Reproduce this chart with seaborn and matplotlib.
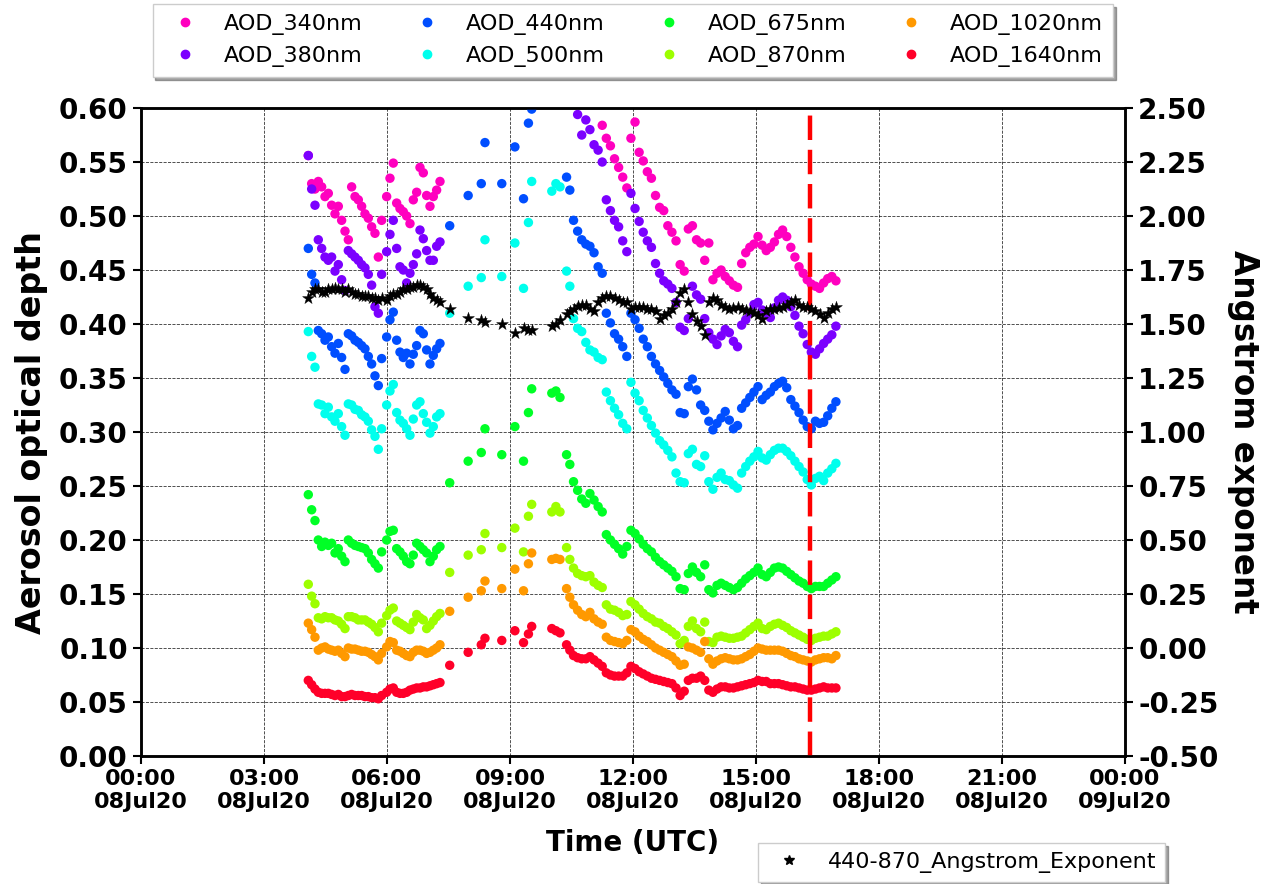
import numpy as np
import pandas as pd
import seaborn as sns
import matplotlib
matplotlib.use('Agg')
import matplotlib.pyplot as plt
import matplotlib.dates as mdates
from matplotlib.lines import Line2D

nan = np.nan

# observation times, hours UTC on 08Jul20
hours = [4.081, 4.163, 4.244, 4.325, 4.407, 4.488, 4.569, 4.650, 4.732, 4.813, 4.894, 4.976,
         5.057, 5.138, 5.220, 5.301, 5.382, 5.463, 5.545, 5.626, 5.707, 5.789, 5.870,
         5.992, 6.073, 6.154, 6.236, 6.317, 6.398, 6.480, 6.561, 6.642, 6.724, 6.805, 6.886,
         6.967, 7.049, 7.130, 7.211, 7.293,
         7.53, 7.98, 8.30, 8.39, 8.80, 9.12, 9.33, 9.45, 9.53, 10.02, 10.12, 10.22, 10.38, 10.46,
         10.55, 10.65, 10.75, 10.85, 10.95, 11.05, 11.15, 11.25,
         11.35, 11.45, 11.55, 11.65, 11.75, 11.85,
         11.95, 12.05, 12.15, 12.25, 12.35, 12.45, 12.55, 12.65, 12.75, 12.85, 12.95,
         13.05, 13.15, 13.25, 13.35, 13.45, 13.55, 13.65, 13.75, 13.85, 13.95,
         14.05, 14.15, 14.25, 14.35, 14.45, 14.55, 14.65, 14.75, 14.85, 14.95,
         15.05, 15.15, 15.25, 15.35, 15.45, 15.55, 15.65, 15.75, 15.85, 15.95,
         16.05, 16.15, 16.25, 16.35, 16.45, 16.55, 16.65, 16.75, 16.85, 16.95]

aod_340 = [0.556, 0.530, 0.525, 0.532, 0.527, 0.518, 0.521, 0.510, 0.502, 0.509, 0.496, 0.486,
           0.478, 0.527, 0.518, 0.515, 0.509, 0.502, 0.498, 0.490, 0.484, 0.462, 0.496,
           0.518, 0.535, 0.549, 0.512, 0.507, 0.504, 0.500, 0.493, 0.515, 0.522, 0.545, 0.540,
           0.519, 0.509, 0.518, 0.524, 0.532,
           nan, nan, nan, nan, nan, nan, nan, nan, nan, nan, nan, nan, nan, nan,
           nan, nan, nan, nan, nan, nan, nan, 0.584,
           0.572, 0.565, 0.553, 0.545, 0.536, 0.526,
           0.572, 0.587, 0.559, 0.551, 0.541, 0.535, 0.519, 0.508, 0.505, 0.491, 0.485,
           0.477, 0.455, 0.449, 0.488, 0.491, 0.478, 0.475, 0.459, 0.475, 0.441,
           0.447, 0.450, 0.444, 0.440, 0.436, 0.434, 0.456, 0.466, 0.471, 0.474,
           0.481, 0.473, 0.468, 0.471, 0.476, 0.483, 0.487, 0.481, 0.471, 0.462,
           0.453, 0.447, 0.441, 0.437, 0.435, 0.433, 0.438, 0.442, 0.444, 0.440]

aod_380 = [0.556, 0.525, 0.510, 0.478, 0.470, 0.462, 0.459, 0.462, 0.449, 0.455, 0.441, 0.431,
           0.468, 0.465, 0.462, 0.459, 0.455, 0.452, 0.446, 0.436, 0.416, 0.410, 0.446,
           0.467, 0.483, 0.496, 0.470, 0.453, 0.450, 0.438, 0.447, 0.455, 0.465, 0.487, 0.479,
           0.468, 0.459, 0.459, 0.472, 0.476,
           nan, nan, nan, nan, nan, nan, nan, nan, nan, nan, nan, nan, nan, nan,
           nan, 0.594, 0.575, 0.589, 0.580, 0.566, 0.561, 0.550,
           0.515, 0.505, 0.496, 0.490, 0.477, 0.467,
           0.521, 0.507, 0.495, 0.485, 0.477, 0.471, 0.456, 0.447, 0.440, 0.437, 0.433,
           0.420, 0.397, 0.394, 0.405, 0.435, 0.427, 0.423, 0.405, 0.392, 0.386,
           0.381, 0.389, 0.395, 0.392, 0.384, 0.379, 0.399, 0.404, 0.410, 0.418,
           0.420, 0.413, 0.410, 0.406, 0.415, 0.422, 0.425, 0.422, 0.416, 0.408,
           0.398, 0.391, 0.381, 0.374, 0.372, 0.377, 0.382, 0.386, 0.390, 0.398]

aod_440 = [0.470, 0.446, 0.438, 0.394, 0.391, 0.385, 0.388, 0.379, 0.373, 0.382, 0.369, 0.358,
           0.391, 0.389, 0.385, 0.383, 0.380, 0.377, 0.370, 0.363, 0.352, 0.343, 0.368,
           0.388, 0.404, 0.411, 0.385, 0.374, 0.369, 0.373, 0.363, 0.372, 0.380, 0.394, 0.391,
           0.376, 0.363, 0.371, 0.377, 0.382,
           0.491, 0.519, 0.530, 0.568, 0.530, 0.564, 0.516, 0.586, 0.599, nan, nan, nan, 0.536, 0.524,
           0.496, 0.486, 0.478, 0.474, 0.472, 0.466, 0.453, 0.447,
           0.410, 0.401, 0.391, 0.386, 0.379, 0.370,
           0.410, 0.404, 0.396, 0.386, 0.379, 0.370, 0.363, 0.357, 0.351, 0.345, 0.339,
           0.335, 0.318, 0.317, 0.342, 0.349, 0.339, 0.325, 0.320, 0.310, 0.302,
           0.308, 0.313, 0.319, 0.311, 0.303, 0.306, 0.322, 0.327, 0.332, 0.337,
           0.342, 0.330, 0.334, 0.337, 0.342, 0.345, 0.347, 0.341, 0.330, 0.324,
           0.318, 0.311, 0.305, 0.303, 0.310, 0.308, 0.309, 0.315, 0.322, 0.328]

aod_500 = [0.393, 0.370, 0.360, 0.326, 0.325, 0.317, 0.323, 0.314, 0.310, 0.317, 0.305, 0.297,
           0.326, 0.325, 0.321, 0.320, 0.316, 0.314, 0.310, 0.302, 0.296, 0.284, 0.303,
           0.325, 0.338, 0.344, 0.318, 0.311, 0.308, 0.303, 0.297, 0.312, 0.325, 0.328, 0.317,
           0.309, 0.299, 0.305, 0.314, 0.317,
           0.410, 0.435, 0.443, 0.478, 0.444, 0.475, 0.433, 0.494, 0.532, 0.523, 0.530, 0.527, 0.449, 0.435,
           0.405, 0.396, 0.393, 0.383, 0.376, 0.374, 0.369, 0.367,
           0.337, 0.329, 0.322, 0.316, 0.308, 0.303,
           0.346, 0.336, 0.329, 0.320, 0.313, 0.306, 0.299, 0.292, 0.288, 0.283, 0.277,
           0.262, 0.254, 0.253, 0.280, 0.284, 0.270, 0.268, 0.278, 0.254, 0.247,
           0.258, 0.262, 0.256, 0.255, 0.251, 0.248, 0.262, 0.268, 0.273, 0.277,
           0.282, 0.276, 0.274, 0.279, 0.283, 0.285, 0.285, 0.282, 0.278, 0.273,
           0.268, 0.263, 0.256, 0.251, 0.257, 0.259, 0.255, 0.262, 0.266, 0.271]

aod_675 = [0.242, 0.228, 0.218, 0.200, 0.194, 0.198, 0.195, 0.197, 0.188, 0.192, 0.185, 0.180,
           0.200, 0.197, 0.195, 0.194, 0.193, 0.192, 0.188, 0.182, 0.178, 0.174, 0.189,
           0.200, 0.208, 0.209, 0.192, 0.189, 0.185, 0.180, 0.178, 0.186, 0.197, 0.194, 0.191,
           0.188, 0.180, 0.185, 0.191, 0.194,
           0.253, 0.273, 0.281, 0.303, 0.279, 0.305, 0.273, 0.318, 0.340, 0.336, 0.338, 0.332, 0.279, 0.270,
           0.254, 0.246, 0.238, 0.234, 0.243, 0.237, 0.231, 0.226,
           0.205, 0.200, 0.196, 0.192, 0.187, 0.194,
           0.209, 0.206, 0.201, 0.196, 0.192, 0.189, 0.184, 0.180, 0.177, 0.174, 0.171,
           0.166, 0.155, 0.154, 0.169, 0.175, 0.170, 0.166, 0.177, 0.154, 0.151,
           0.158, 0.160, 0.158, 0.156, 0.154, 0.156, 0.160, 0.164, 0.167, 0.170,
           0.174, 0.168, 0.166, 0.170, 0.174, 0.175, 0.174, 0.171, 0.168, 0.165,
           0.162, 0.160, 0.157, 0.155, 0.157, 0.157, 0.157, 0.160, 0.163, 0.166]

aod_870 = [0.159, 0.148, 0.141, 0.128, 0.127, 0.129, 0.128, 0.128, 0.126, 0.125, 0.122, 0.118,
           0.129, 0.129, 0.128, 0.126, 0.126, 0.126, 0.124, 0.122, 0.119, 0.115, 0.123,
           0.130, 0.135, 0.137, 0.125, 0.123, 0.121, 0.119, 0.117, 0.124, 0.131, 0.128, 0.126,
           0.118, 0.121, 0.125, 0.129, 0.132,
           0.170, 0.186, 0.191, 0.206, 0.193, 0.211, 0.189, 0.222, 0.233, 0.226, 0.231, 0.226, 0.193, 0.182,
           0.174, 0.169, 0.167, 0.166, 0.167, 0.161, 0.158, 0.156,
           0.140, 0.136, 0.135, 0.133, 0.130, 0.131,
           0.143, 0.140, 0.136, 0.132, 0.129, 0.127, 0.124, 0.123, 0.120, 0.118, 0.115,
           0.112, 0.104, 0.107, 0.120, 0.125, 0.118, 0.115, 0.124, 0.106, 0.105,
           0.110, 0.111, 0.110, 0.109, 0.109, 0.110, 0.111, 0.114, 0.117, 0.120,
           0.123, 0.118, 0.117, 0.120, 0.122, 0.123, 0.121, 0.119, 0.116, 0.114,
           0.112, 0.110, 0.108, 0.107, 0.109, 0.110, 0.111, 0.111, 0.113, 0.115]

aod_1020 = [0.123, 0.117, 0.110, 0.098, 0.100, 0.101, 0.099, 0.098, 0.097, 0.098, 0.095, 0.092,
            0.100, 0.099, 0.099, 0.098, 0.097, 0.097, 0.096, 0.094, 0.092, 0.089, 0.095,
            0.101, 0.106, 0.105, 0.098, 0.097, 0.095, 0.093, 0.092, 0.096, 0.098, 0.098, 0.097,
            0.095, 0.096, 0.098, 0.100, 0.103,
            0.134, 0.147, 0.153, 0.162, 0.155, 0.173, 0.153, 0.178, 0.188, 0.182, 0.183, 0.182, 0.155, 0.147,
            0.140, 0.135, 0.131, 0.129, 0.133, 0.127, 0.124, 0.122,
            0.110, 0.107, 0.106, 0.105, 0.104, 0.107,
            0.117, 0.115, 0.111, 0.108, 0.106, 0.103, 0.100, 0.098, 0.096, 0.094, 0.092,
            0.088, 0.084, 0.085, 0.101, 0.100, 0.098, 0.096, 0.106, 0.090, 0.085,
            0.088, 0.090, 0.091, 0.090, 0.089, 0.089, 0.090, 0.092, 0.094, 0.097,
            0.100, 0.099, 0.098, 0.098, 0.098, 0.098, 0.097, 0.095, 0.093, 0.092,
            0.090, 0.089, 0.088, 0.087, 0.089, 0.090, 0.091, 0.091, 0.090, 0.093]

aod_1640 = [0.070, 0.066, 0.062, 0.059, 0.058, 0.058, 0.058, 0.057, 0.056, 0.057, 0.055, 0.055,
            0.056, 0.057, 0.056, 0.056, 0.056, 0.055, 0.055, 0.054, 0.054, 0.053, 0.056,
            0.059, 0.062, 0.063, 0.059, 0.058, 0.058, 0.059, 0.061, 0.062, 0.063, 0.063, 0.064,
            0.064, 0.065, 0.066, 0.067, 0.068,
            0.084, 0.096, 0.103, 0.109, 0.107, 0.116, 0.105, 0.113, 0.120, 0.118, 0.116, 0.114, 0.103, 0.098,
            0.093, 0.091, 0.090, 0.090, 0.092, 0.089, 0.086, 0.083,
            0.077, 0.075, 0.074, 0.074, 0.074, 0.077,
            0.083, 0.081, 0.078, 0.076, 0.074, 0.072, 0.071, 0.070, 0.069, 0.068, 0.067,
            0.063, 0.056, 0.060, 0.070, 0.072, 0.072, 0.074, 0.070, 0.061, 0.059,
            0.062, 0.064, 0.064, 0.063, 0.063, 0.064, 0.065, 0.066, 0.067, 0.068,
            0.070, 0.069, 0.069, 0.067, 0.067, 0.067, 0.066, 0.065, 0.064, 0.064,
            0.063, 0.062, 0.061, 0.061, 0.062, 0.063, 0.064, 0.063, 0.063, 0.063]

angstrom = [1.62, 1.65, 1.66, 1.66, 1.65, 1.65, 1.66, 1.66, 1.665, 1.66, 1.66, 1.65,
            1.66, 1.65, 1.64, 1.64, 1.63, 1.63, 1.63, 1.62, 1.62, 1.61, 1.62,
            1.61, 1.63, 1.64, 1.64, 1.65, 1.66, 1.66, 1.67, 1.67, 1.68, 1.68, 1.67,
            1.66, 1.64, 1.62, 1.61, 1.60,
            1.57, 1.53, 1.52, 1.51, 1.50, 1.46, 1.48, 1.47, 1.47, 1.49, 1.50, 1.52, 1.545, 1.56,
            1.57, 1.585, 1.59, 1.59, 1.57, 1.56, 1.60, 1.62,
            1.63, 1.63, 1.62, 1.61, 1.60, 1.60,
            1.57, 1.58, 1.58, 1.58, 1.57, 1.57, 1.56, 1.525, 1.54, 1.55, 1.57,
            1.60, 1.645, 1.66, 1.60, 1.545, 1.515, 1.49, 1.45, 1.60, 1.62,
            1.61, 1.59, 1.58, 1.57, 1.575, 1.58, 1.57, 1.565, 1.56, 1.55,
            1.54, 1.525, 1.56, 1.57, 1.57, 1.575, 1.58, 1.59, 1.60, 1.61,
            1.59, 1.58, 1.58, 1.57, 1.56, 1.545, 1.53, 1.55, 1.57, 1.58]

labels = ['AOD_340nm', 'AOD_380nm', 'AOD_440nm', 'AOD_500nm',
          'AOD_675nm', 'AOD_870nm', 'AOD_1020nm', 'AOD_1640nm']
series = [aod_340, aod_380, aod_440, aod_500, aod_675, aod_870, aod_1020, aod_1640]
cut_hour = 16.32

day = pd.Timestamp('2020-07-08')
times = day + pd.to_timedelta(hours, unit='h')

df = pd.concat([pd.DataFrame({'time': times, 'aod': vals, 'band': lab})
                for lab, vals in zip(labels, series)], ignore_index=True)
df_ae = pd.DataFrame({'time': times, 'ae': angstrom})

cols = plt.get_cmap('gist_rainbow')(np.linspace(0, 1, 8))[::-1]
pal = dict(zip(labels, cols))

sns.set_style('ticks')
plt.rcParams['font.family'] = ['DejaVu Sans']
plt.rcParams.update({'text.color': 'black', 'axes.labelcolor': 'black',
                     'xtick.color': 'black', 'ytick.color': 'black',
                     'axes.edgecolor': 'black'})

fig = plt.figure(figsize=(12.69, 8.84), dpi=100)
ax = fig.add_axes([0.1111, 0.1448, 0.7754, 0.733])

sns.scatterplot(data=df.dropna(), x='time', y='aod', hue='band', palette=pal,
                hue_order=labels, s=46, linewidth=0, legend=False, ax=ax, zorder=3)
ax.axvline(day + pd.Timedelta(hours=cut_hour), color='red', lw=3.2,
           dashes=(5.5, 2.2), zorder=4)

ax.set_xlim(day, day + pd.Timedelta(days=1))
ax.set_ylim(0, 0.6)
ax.set_yticks(np.arange(0, 0.61, 0.05))
ax.yaxis.set_major_formatter(plt.FormatStrFormatter('%.2f'))
ax.xaxis.set_major_locator(mdates.HourLocator(byhour=range(0, 24, 3)))
ax.xaxis.set_major_formatter(mdates.DateFormatter('%H:%M\n%d%b%y'))
ax.grid(True, linestyle='--', color='k', linewidth=0.6, alpha=0.8)
ax.set_xlabel('Time (UTC)', fontsize=20, fontweight='bold', labelpad=12)
ax.set_ylabel('Aerosol optical depth', fontsize=24, fontweight='bold', labelpad=8)
ax.tick_params(axis='x', labelsize=16, width=1.5, length=6)
ax.tick_params(axis='y', labelsize=20, width=1.5, length=6)
for lab in ax.get_xticklabels() + ax.get_yticklabels():
    lab.set_fontweight('bold')

ax2 = ax.twinx()
sns.scatterplot(data=df_ae, x='time', y='ae', color='k', marker='*', s=80,
                linewidth=0.3, edgecolor='k', legend=False, ax=ax2, zorder=5)
ax2.set_ylim(-0.5, 2.5)
ax2.set_yticks(np.arange(-0.5, 2.51, 0.25))
ax2.yaxis.set_major_formatter(plt.FormatStrFormatter('%.2f'))
ax2.set_ylabel('Angstrom exponent', fontsize=23.5, fontweight='bold',
               rotation=270, labelpad=30)
ax2.tick_params(labelsize=20, width=1.5, length=6)
for lab in ax2.get_yticklabels():
    lab.set_fontweight('bold')
for a in (ax, ax2):
    for sp in a.spines.values():
        sp.set_linewidth(1.8)

handles = [Line2D([], [], marker='o', ls='', color=pal[l], markersize=6) for l in labels]
ax.legend(handles, labels, ncol=4, loc='lower center', bbox_to_anchor=(0.5, 1.048),
          borderaxespad=0, fontsize=16, shadow=True, fancybox=False, handletextpad=0.75,
          columnspacing=1.9, borderpad=0.45, framealpha=1, edgecolor='0.8')

h_ae = [Line2D([], [], marker='*', ls='', color='k', markersize=7)]
ax2.legend(h_ae, ['440-870_Angstrom_Exponent'], loc='upper center',
           bbox_to_anchor=(0.834, -0.134), borderaxespad=0, fontsize=16, shadow=True,
           fancybox=False, handletextpad=0.75, borderpad=0.4, framealpha=1, edgecolor='0.8')

fig.savefig('out.png', dpi=100)
